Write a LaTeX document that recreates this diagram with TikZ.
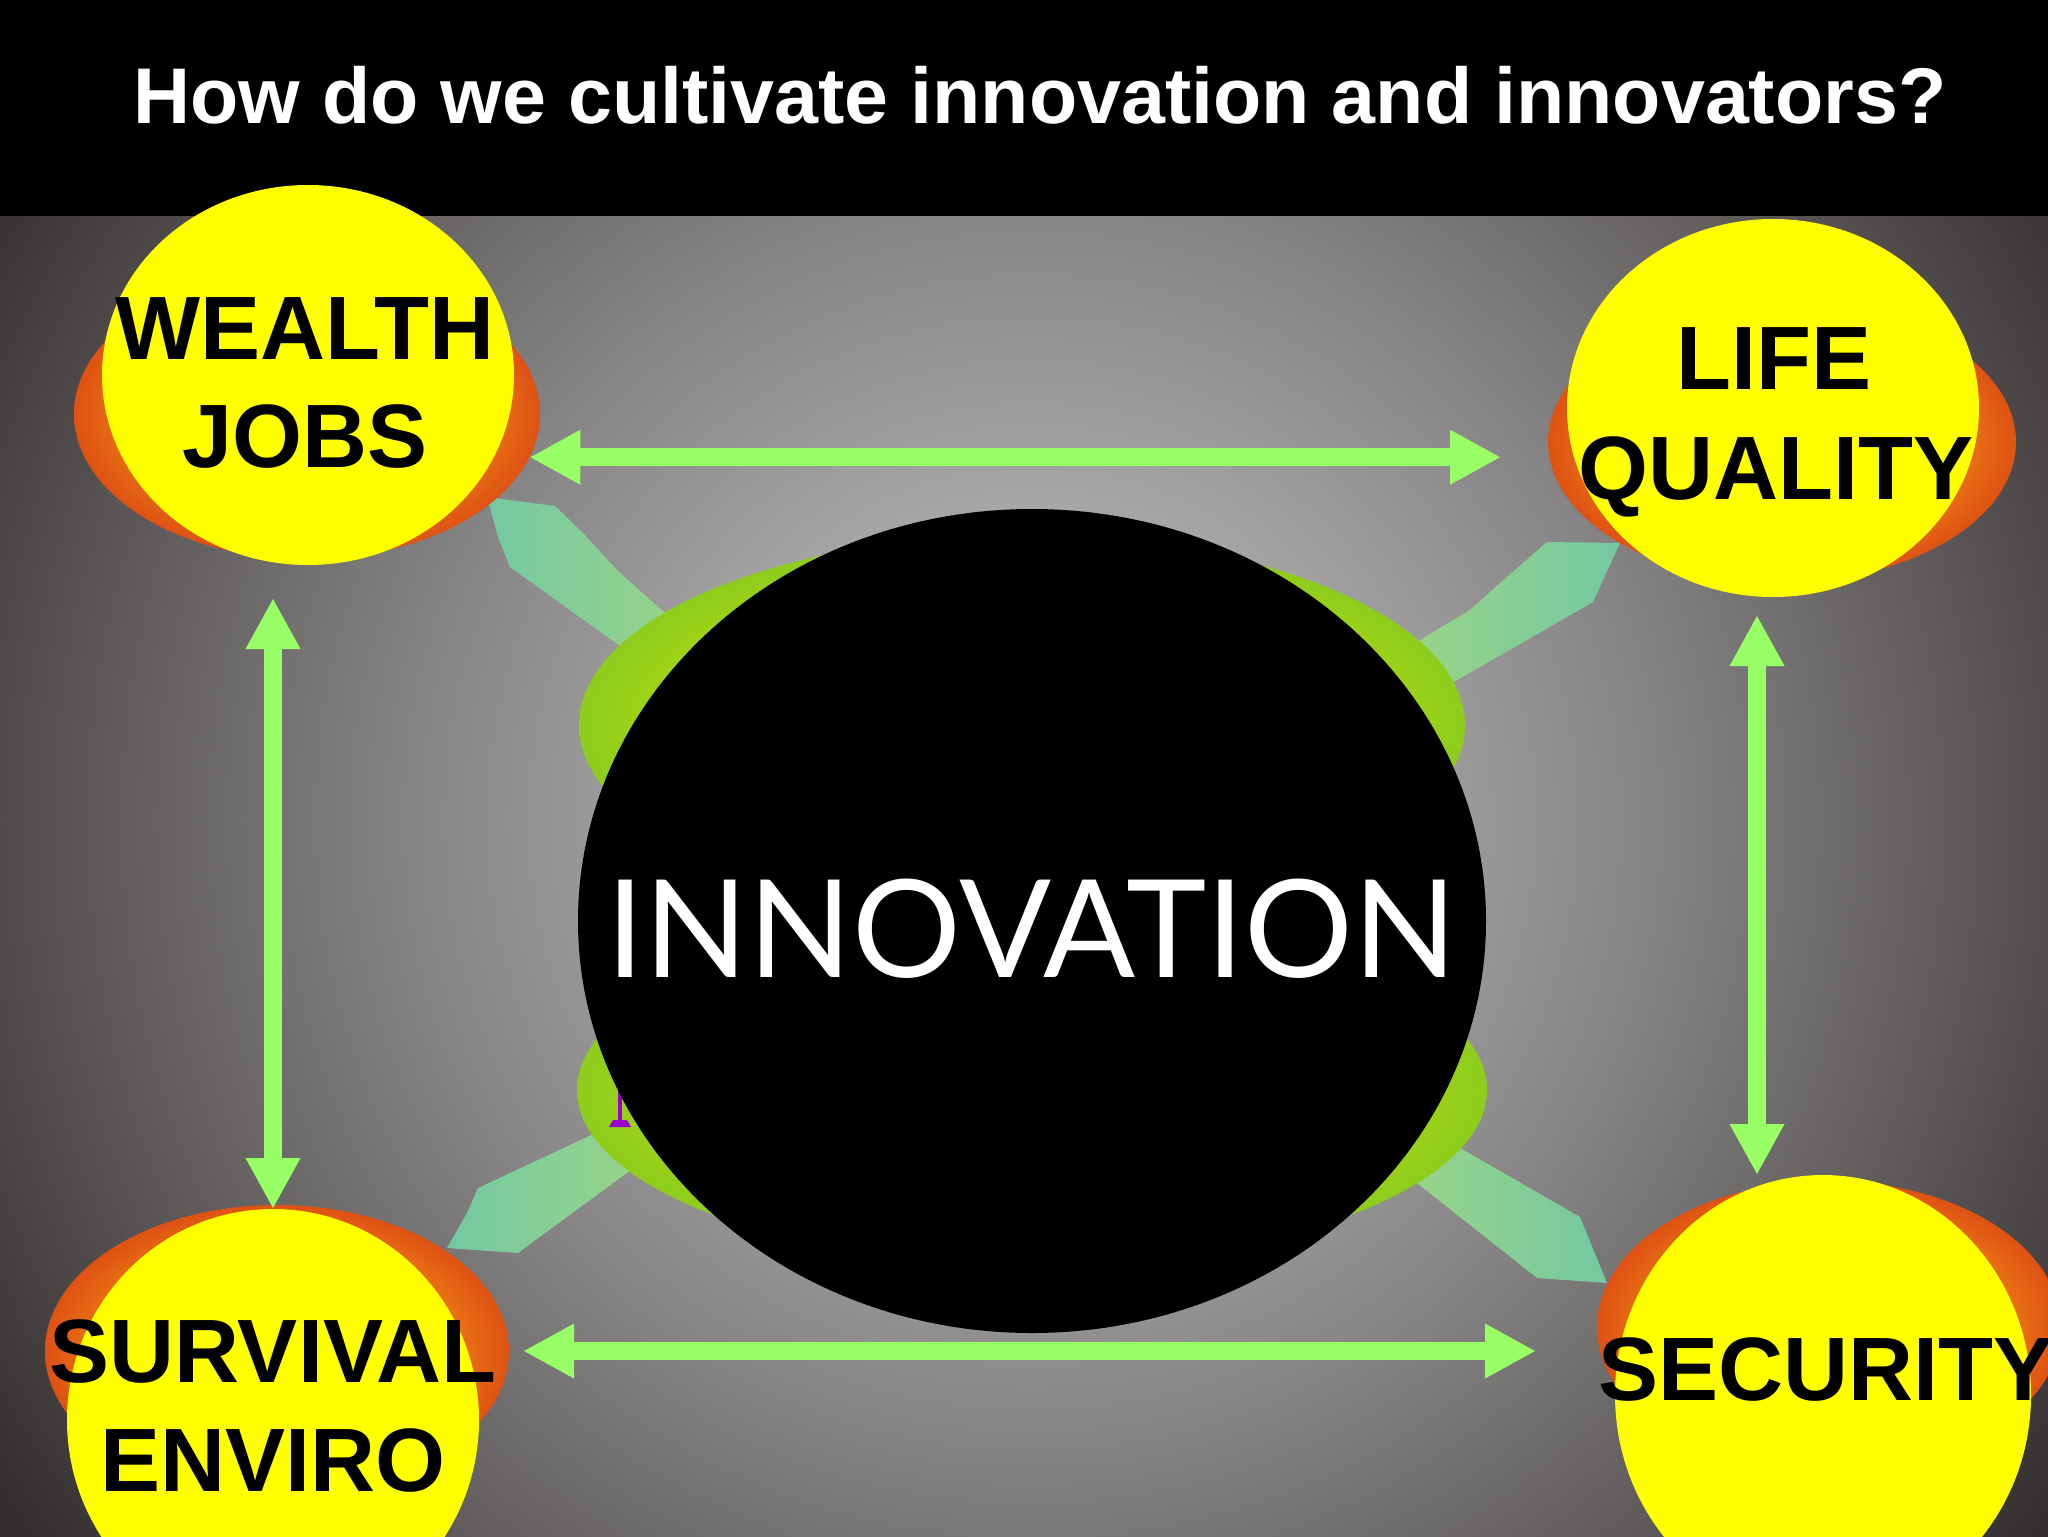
\documentclass[tikz,border=0pt]{standalone}
\usepackage{fontspec}
\setmainfont{Liberation Sans}
\newfontfamily\innovfont{Lato}
\usetikzlibrary{shapes.geometric,arrows.meta}
\definecolor{ylw}{RGB}{255,255,0}
\definecolor{arrowgreen}{RGB}{153,255,102}
\definecolor{oIn}{RGB}{234,118,18}
\definecolor{oOut}{RGB}{222,82,20}
\definecolor{gIn}{RGB}{172,218,14}
\definecolor{gOut}{RGB}{142,204,30}
\definecolor{tealA}{RGB}{116,200,162}
\definecolor{tealB}{RGB}{160,214,132}
\definecolor{cursorpurple}{RGB}{153,0,204}
\definecolor{bg0}{RGB}{182,182,182}
\definecolor{bg1}{RGB}{168,167,167}
\definecolor{bg2}{RGB}{134,132,132}
\definecolor{bg3}{RGB}{94,90,90}
\definecolor{bg4}{RGB}{50,46,46}
\pgfdeclareradialshading{bgshade}{\pgfpoint{0bp}{0bp}}{color(0bp)=(bg0); color(6bp)=(bg1); color(11.9bp)=(bg2); color(17.9bp)=(bg3); color(23.8bp)=(bg4); color(50bp)=(bg4)}
\pgfdeclareradialshading{orangeshade}{\pgfpoint{0bp}{0bp}}{color(0bp)=(oIn); color(19bp)=(oIn); color(25bp)=(oOut); color(50bp)=(oOut)}
\pgfdeclareradialshading{greenshade}{\pgfpoint{0bp}{0bp}}{color(0bp)=(gIn); color(18bp)=(gIn); color(25bp)=(gOut); color(50bp)=(gOut)}
\tikzset{
  ring/.style={ellipse, draw=none, inner sep=0pt, outer sep=0pt},
  yellowball/.style={ring, fill=ylw},
  orangeball/.style={ring, shade, shading=orangeshade},
  greenball/.style={ring, shade, shading=greenshade},
  blackball/.style={ring, fill=black},
  biglabel/.style={font=\fontsize{45pt}{54pt}\selectfont\bfseries, anchor=base, inner sep=0pt, text=black},
  titlestyle/.style={font=\fontsize{39.5pt}{47pt}\selectfont\bfseries, anchor=base, inner sep=0pt, text=white},
  innovstyle/.style={font=\fontsize{68pt}{80pt}\selectfont\innovfont, anchor=base, inner sep=0pt, text=white},
  garrow/.style={draw=arrowgreen, line width=9pt, arrows={Triangle[length=25.5pt,width=25.5pt]-Triangle[length=25.5pt,width=25.5pt]}},
  diagleft/.style={draw=none, left color=tealA, right color=tealB},
  diagright/.style={draw=none, left color=tealB, right color=tealA}
}
\begin{document}
\begin{tikzpicture}[x=0.5pt, y=-0.5pt]
\useasboundingbox (0,0) rectangle (2048,1536);
% background
\begin{scope}
  \clip (0,216) rectangle (2048,1536);
  \shade[shading=bgshade] (1032,820) circle[radius=1300];
\end{scope}
\fill[black] (0,0) rectangle (2048,216);
\node[titlestyle] (title) at (1040,124) {How do we cultivate innovation and innovators?};

% diagonal broad arrows
\shade[diagleft]  (487,497) -- (555,506) -- (583,533) -- (617,570) -- (658,607) -- (718,657) -- (683,691) -- (613,641) -- (510,567) -- (498,537) -- cycle;
\shade[diagright] (1547,542) -- (1620,543) -- (1593,602) -- (1452,683) -- (1400,713) -- (1370,670) -- (1420,640) -- (1470,610) -- (1500,583) -- cycle;
\shade[diagleft]  (447,1248) -- (518,1253) -- (620,1178) -- (680,1134) -- (650,1108) -- (587,1137) -- (478,1188) -- (467,1213) -- cycle;
\shade[diagright] (1580,1217) -- (1607,1283) -- (1537,1278) -- (1422,1187) -- (1370,1146) -- (1400,1113) -- (1460,1148) -- cycle;

% green ellipses behind the centre
\node[greenball, minimum width=443pt, minimum height=190pt] (gU) at (1022,725) {};
\node[greenball, minimum width=455pt, minimum height=175pt] (gL) at (1032,1090) {};

% small purple cursor mark
\fill[cursorpurple] (618,1060) rectangle (622,1121);
\fill[cursorpurple] (613,1120) -- (627,1120) -- (631,1127) -- (609,1127) -- cycle;

% centre
\node[blackball, minimum width=454pt, minimum height=412pt] (innov) at (1032,921) {};
\node[innovstyle] (innovtxt) at (1032,977) {INNOVATION};

% outcome circles
\node[orangeball, minimum width=233pt, minimum height=145pt] (wO) at (307,414) {};
\node[yellowball, minimum width=206pt, minimum height=190pt] (wY) at (308,375) {};
\node[orangeball, minimum width=234pt, minimum height=140pt] (lO) at (1782,442) {};
\node[yellowball, minimum width=206pt, minimum height=189pt] (lY) at (1773,408) {};
\node[orangeball, minimum width=232pt, minimum height=146pt] (sO) at (277,1351) {};
\node[yellowball, minimum width=206pt, minimum height=211pt] (sY) at (273,1420) {};
\node[orangeball, minimum width=232pt, minimum height=146pt] (secO) at (1829,1327) {};
\node[yellowball, minimum width=208pt, minimum height=220pt] (secY) at (1823,1395) {};

\node[biglabel] (wealth) at (305,359) {WEALTH};
\node[biglabel] (jobs) at (305,467) {JOBS};
\node[biglabel] (life) at (1774,389) {LIFE};
\node[biglabel] (quality) at (1776,499) {QUALITY};
\node[biglabel] (survival) at (273,1382) {SURVIVAL};
\node[biglabel] (enviro) at (273,1491) {ENVIRO};
\node[biglabel] (security) at (1826,1400) {SECURITY};

% connecting double arrows
\draw[garrow, shorten >=23.5pt] (wO.-11.7) -- (wO.-11.7 -| lO.west);
\draw[garrow, shorten <=7pt, shorten >=30.5pt] (sO.east) -- (sO.east -| secO.west);
\draw[garrow, shorten >=16.5pt] (sY.north) -- (sY.north |- wY.south);
\coordinate (rv) at ([xshift=-8pt]lY.south);
\draw[garrow, shorten <=9pt] (rv) -- (rv |- secY.north);
\end{tikzpicture}
\end{document}
